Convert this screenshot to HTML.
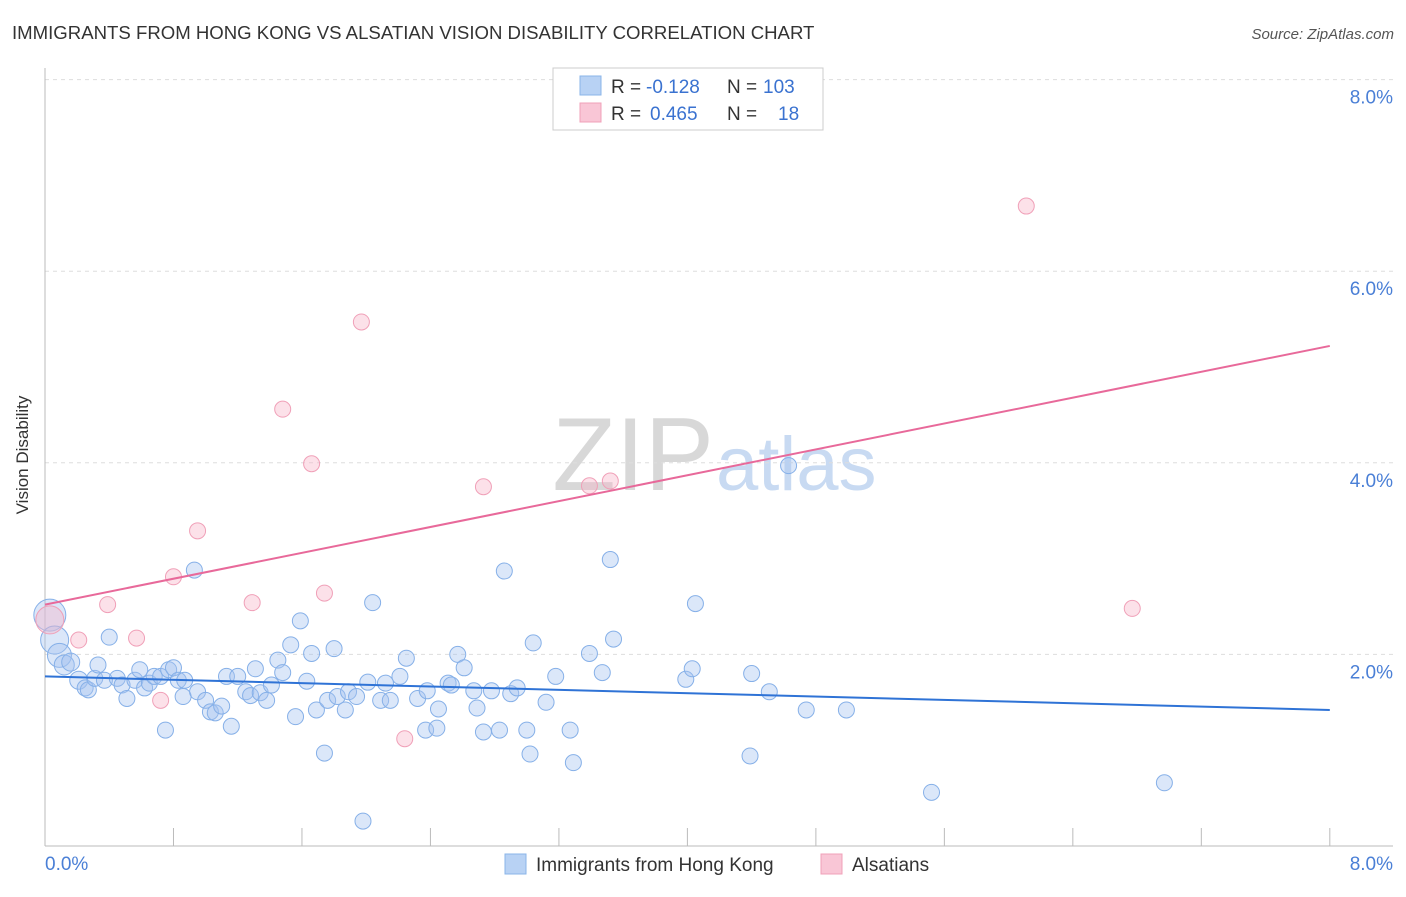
<!DOCTYPE html>
<html><head><meta charset="utf-8"><style>
body{margin:0;background:#fff;font-family:"Liberation Sans",sans-serif}
svg text{font-family:"Liberation Sans",sans-serif}
</style></head><body>
<svg width="1406" height="892" xmlns="http://www.w3.org/2000/svg">
<text x="12" y="39" font-size="18.6" fill="#333">IMMIGRANTS FROM HONG KONG VS ALSATIAN VISION DISABILITY CORRELATION CHART</text>
<text x="1394" y="39" font-size="15" fill="#555" text-anchor="end" font-style="italic">Source: ZipAtlas.com</text>
<text x="714" y="490" font-size="104" fill="#d8d8d8" text-anchor="end" font-family="Liberation Serif">ZIP</text>
<text x="716" y="490" font-size="76" fill="#c8daf2">atlas</text>
<g id="grid"></g>
<g id="axes"></g>
<g id="marks"></g>
<text x="28" y="455" font-size="17" fill="#333" text-anchor="middle" transform="rotate(-90 28 455)">Vision Disability</text>
<g>
<rect x="553" y="68" width="270" height="62" fill="#fff" stroke="#ccc"/>
<rect x="580" y="76" width="21" height="19" fill="#b8d2f4" stroke="#8ab4e8"/>
<rect x="580" y="103" width="21" height="19" fill="#f9c6d6" stroke="#f0a0b8"/>
<text x="611" y="93" font-size="19" fill="#333">R =</text>
<text x="646" y="93" font-size="19" fill="#3a72d0">-0.128</text>
<text x="727" y="93" font-size="19" fill="#333">N =</text>
<text x="763" y="93" font-size="19" fill="#3a72d0">103</text>
<text x="611" y="120" font-size="19" fill="#333">R =</text>
<text x="650" y="120" font-size="19" fill="#3a72d0">0.465</text>
<text x="727" y="120" font-size="19" fill="#333">N =</text>
<text x="778" y="120" font-size="19" fill="#3a72d0">18</text>
</g>
<g>
<rect x="505" y="854" width="21" height="20" fill="#b8d2f4" stroke="#8ab4e8"/>
<text x="536" y="871" font-size="19" fill="#333">Immigrants from Hong Kong</text>
<rect x="821" y="854" width="21" height="20" fill="#f9c6d6" stroke="#f0a0b8"/>
<text x="852" y="871" font-size="19" fill="#333">Alsatians</text>
</g>
</svg>
<script>
const xTicks=[0,0.8,1.6,2.4,3.2,4.0,4.8,5.6,6.4,7.2,8.0];
const yTicks=[2,4,6,8];
const yTickLabels=["2.0%","4.0%","6.0%","8.0%"];
const xEndLabels=["0.0%","8.0%"];
const blueX=[.03,.06,.09,.12,.16,.21,.25,.27,.31,.33,.37,.40,.45,.48,.51,.56,.59,.62,.65,.68,.72,.75,.77,.80,.83,.86,.87,.93,.95,1.00,1.03,1.06,1.10,1.13,1.16,1.20,1.25,1.28,1.31,1.34,1.38,1.41,1.45,1.48,1.53,1.56,1.59,1.63,1.66,1.69,1.74,1.76,1.80,1.82,1.87,1.89,1.94,1.98,2.01,2.04,2.09,2.12,2.15,2.21,2.25,2.32,2.37,2.38,2.45,2.44,2.51,2.53,2.57,2.61,2.67,2.69,2.73,2.78,2.83,2.86,2.90,2.94,3.00,3.02,3.04,3.12,3.18,3.27,3.29,3.39,3.47,3.52,3.54,3.99,4.03,4.05,4.39,4.40,4.51,4.63,4.74,4.99,5.52,6.97];
const blueY=[2.41,2.15,1.99,1.89,1.92,1.73,1.65,1.63,1.75,1.89,1.73,2.18,1.75,1.68,1.54,1.73,1.84,1.65,1.70,1.77,1.77,1.21,1.84,1.86,1.73,1.56,1.73,2.88,1.61,1.52,1.40,1.39,1.46,1.77,1.25,1.77,1.61,1.57,1.85,1.60,1.52,1.68,1.94,1.81,2.10,1.35,2.35,1.72,2.01,1.42,0.97,1.52,2.06,1.56,1.42,1.61,1.56,0.26,1.71,2.54,1.52,1.70,1.52,1.77,1.96,1.54,1.21,1.62,1.43,1.23,1.70,1.68,2.00,1.86,1.62,1.44,1.19,1.62,1.21,2.87,1.59,1.65,1.21,0.96,2.12,1.50,1.77,1.21,0.87,2.01,1.81,2.99,2.16,1.74,1.85,2.53,0.94,1.80,1.61,3.97,1.42,1.42,0.56,0.66];
const blueSize=[16,14,12,10,9,9];
const pinkX=[.03,.21,.39,.57,.72,.80,.95,1.29,1.48,1.66,1.74,1.97,2.24,2.73,3.39,3.52,6.11,6.77];
const pinkY=[2.36,2.15,2.52,2.17,1.52,2.81,3.29,2.54,4.56,3.99,2.64,5.47,1.12,3.75,3.76,3.81,6.68,2.48];
const pinkSize=[14];
const blueTrend=[1.77,1.42];
const pinkTrend=[2.52,5.22];
const NS="http://www.w3.org/2000/svg";
const X=v=>45+v*160.6, Y=v=>846-v*95.8;
function mk(tag,attrs,parent){const e=document.createElementNS(NS,tag);for(const k in attrs)e.setAttribute(k,attrs[k]);document.getElementById(parent).appendChild(e);return e;}
yTicks.forEach((t,i)=>{
 const g=mk('line',{x1:45,x2:1393,y1:Y(t),y2:Y(t),stroke:'#ddd','stroke-dasharray':'4 4'},'grid');
 
 
 const l=mk('text',{x:1393,y:Y(t)+24,'font-size':19,fill:'#4a7fd6','text-anchor':'end'},'axes');l.textContent=yTickLabels[i];
 
 
});
const ax=mk('line',{x1:45,x2:1393,y1:846,y2:846,stroke:'#bbb'},'axes');


const ay=mk('line',{x1:45,x2:45,y1:68,y2:846,stroke:'#bbb'},'axes');


xTicks.forEach(t=>{const tk=mk('line',{x1:X(t),x2:X(t),y1:828,y2:846,stroke:'#bbb'},'axes');
 
 });
const xl0=mk('text',{x:45,y:870,'font-size':19,fill:'#4a7fd6'},'axes');xl0.textContent=xEndLabels[0];


const xl1=mk('text',{x:1393,y:870,'font-size':19,fill:'#4a7fd6','text-anchor':'end'},'axes');xl1.textContent=xEndLabels[1];


blueX.forEach((x,i)=>{const c=mk('circle',{cx:X(x),cy:Y(blueY[i]),r:blueSize[i]||8,fill:'rgba(164,196,240,0.4)',stroke:'#86b0e8','stroke-width':1},'marks');
 
 });
pinkX.forEach((x,i)=>{const c=mk('circle',{cx:X(x),cy:Y(pinkY[i]),r:pinkSize[i]||8,fill:'rgba(248,180,200,0.4)',stroke:'#f0a0b8','stroke-width':1},'marks');
 
 });
const bt=mk('line',{x1:X(0),y1:Y(blueTrend[0]),x2:X(8),y2:Y(blueTrend[1]),stroke:'#2f73d6','stroke-width':2},'marks');


const pt=mk('line',{x1:X(0),y1:Y(pinkTrend[0]),x2:X(8),y2:Y(pinkTrend[1]),stroke:'#e8699a','stroke-width':2},'marks');


</script>
</body></html>
